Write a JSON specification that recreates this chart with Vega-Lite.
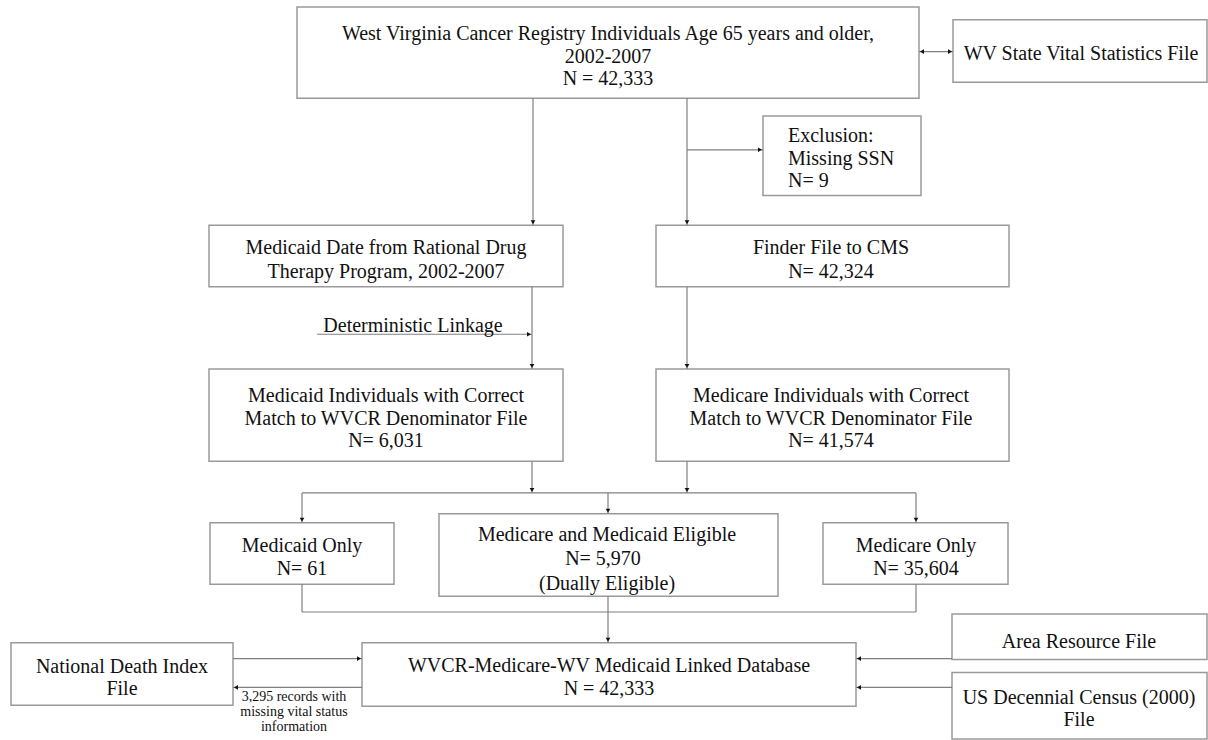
{
  "$schema": "https://vega.github.io/schema/vega-lite/v6.json",
  "width": 1208,
  "height": 740,
  "autosize": {"type": "fit", "contains": "padding"},
  "padding": 0,
  "background": "white",
  "config": {"view": {"stroke": null}},
  "datasets": {
    "boxes": [
      {"id": "top", "x": 297, "y": 7, "x2": 919, "y2": 99},
      {"id": "wv", "x": 953, "y": 20, "x2": 1207, "y2": 83},
      {"id": "excl", "x": 763, "y": 117, "x2": 921, "y2": 197},
      {"id": "mdate", "x": 209, "y": 227, "x2": 563, "y2": 289},
      {"id": "finder", "x": 656, "y": 227, "x2": 1009, "y2": 289},
      {"id": "mdind", "x": 209, "y": 372, "x2": 563, "y2": 465},
      {"id": "mcind", "x": 656, "y": 372, "x2": 1009, "y2": 465},
      {"id": "mdonly", "x": 210, "y": 527, "x2": 394, "y2": 589},
      {"id": "both", "x": 439, "y": 518, "x2": 778, "y2": 601},
      {"id": "mconly", "x": 823, "y": 527, "x2": 1008, "y2": 589},
      {"id": "ndi", "x": 11, "y": 648, "x2": 233, "y2": 711},
      {"id": "db", "x": 362, "y": 648, "x2": 856, "y2": 712},
      {"id": "area", "x": 952, "y": 619, "x2": 1207, "y2": 665},
      {"id": "census", "x": 952, "y": 678, "x2": 1207, "y2": 745}
    ],
    "lines": [
      {"x": 533, "y": 99, "x2": 533, "y2": 227},
      {"x": 687, "y": 99, "x2": 687, "y2": 227},
      {"x": 687, "y": 151, "x2": 763, "y2": 151},
      {"x": 919, "y": 52, "x2": 953, "y2": 52},
      {"x": 532, "y": 289, "x2": 532, "y2": 372},
      {"x": 317, "y": 337, "x2": 532, "y2": 337},
      {"x": 687, "y": 289, "x2": 687, "y2": 372},
      {"x": 532, "y": 465, "x2": 532, "y2": 497},
      {"x": 687, "y": 465, "x2": 687, "y2": 497},
      {"x": 302, "y": 497, "x2": 916, "y2": 497},
      {"x": 302, "y": 497, "x2": 302, "y2": 527},
      {"x": 608, "y": 497, "x2": 608, "y2": 518},
      {"x": 916, "y": 497, "x2": 916, "y2": 527},
      {"x": 302, "y": 589, "x2": 302, "y2": 617},
      {"x": 608, "y": 601, "x2": 608, "y2": 617},
      {"x": 916, "y": 589, "x2": 916, "y2": 617},
      {"x": 302, "y": 617, "x2": 916, "y2": 617},
      {"x": 608, "y": 617, "x2": 608, "y2": 648},
      {"x": 233, "y": 664, "x2": 362, "y2": 664},
      {"x": 233, "y": 693, "x2": 362, "y2": 693},
      {"x": 856, "y": 664, "x2": 952, "y2": 664},
      {"x": 856, "y": 693, "x2": 952, "y2": 693}
    ],
    "heads": [
      {"x": 533, "y": 224, "shape": "triangle-down"},
      {"x": 687, "y": 224, "shape": "triangle-down"},
      {"x": 760, "y": 151, "shape": "triangle-right"},
      {"x": 922, "y": 52, "shape": "triangle-left"},
      {"x": 950, "y": 52, "shape": "triangle-right"},
      {"x": 532, "y": 369, "shape": "triangle-down"},
      {"x": 529, "y": 337, "shape": "triangle-right"},
      {"x": 687, "y": 369, "shape": "triangle-down"},
      {"x": 532, "y": 494, "shape": "triangle-down"},
      {"x": 687, "y": 494, "shape": "triangle-down"},
      {"x": 302, "y": 524, "shape": "triangle-down"},
      {"x": 608, "y": 515, "shape": "triangle-down"},
      {"x": 916, "y": 524, "shape": "triangle-down"},
      {"x": 608, "y": 645, "shape": "triangle-down"},
      {"x": 359, "y": 664, "shape": "triangle-right"},
      {"x": 236, "y": 693, "shape": "triangle-left"},
      {"x": 859, "y": 664, "shape": "triangle-left"},
      {"x": 859, "y": 693, "shape": "triangle-left"}
    ],
    "labels": [
      {"x": 608, "y": 34, "text": "West Virginia Cancer Registry Individuals Age 65 years and older,", "size": 20, "align": "center"},
      {"x": 608, "y": 57, "text": "2002-2007", "size": 20, "align": "center"},
      {"x": 608, "y": 80, "text": "N = 42,333", "size": 20, "align": "center"},
      {"x": 1081, "y": 54, "text": "WV State Vital Statistics File", "size": 20, "align": "center"},
      {"x": 788, "y": 137, "text": "Exclusion:", "size": 20, "align": "left"},
      {"x": 788, "y": 160, "text": "Missing SSN", "size": 20, "align": "left"},
      {"x": 788, "y": 182, "text": "N= 9", "size": 20, "align": "left"},
      {"x": 386, "y": 250, "text": "Medicaid Date from Rational Drug", "size": 20, "align": "center"},
      {"x": 386, "y": 274, "text": "Therapy Program, 2002-2007", "size": 20, "align": "center"},
      {"x": 831, "y": 250, "text": "Finder File to CMS", "size": 20, "align": "center"},
      {"x": 831, "y": 274, "text": "N= 42,324", "size": 20, "align": "center"},
      {"x": 413, "y": 329, "text": "Deterministic Linkage", "size": 20, "align": "center"},
      {"x": 386, "y": 399, "text": "Medicaid Individuals with Correct", "size": 20, "align": "center"},
      {"x": 386, "y": 422, "text": "Match to WVCR Denominator File", "size": 20, "align": "center"},
      {"x": 386, "y": 445, "text": "N= 6,031", "size": 20, "align": "center"},
      {"x": 831, "y": 399, "text": "Medicare Individuals with Correct", "size": 20, "align": "center"},
      {"x": 831, "y": 422, "text": "Match to WVCR Denominator File", "size": 20, "align": "center"},
      {"x": 831, "y": 445, "text": "N= 41,574", "size": 20, "align": "center"},
      {"x": 302, "y": 550, "text": "Medicaid Only", "size": 20, "align": "center"},
      {"x": 302, "y": 574, "text": "N= 61", "size": 20, "align": "center"},
      {"x": 607, "y": 539, "text": "Medicare and Medicaid Eligible", "size": 20, "align": "center"},
      {"x": 603, "y": 564, "text": "N= 5,970", "size": 20, "align": "center"},
      {"x": 607, "y": 589, "text": "(Dually Eligible)", "size": 20, "align": "center"},
      {"x": 916, "y": 550, "text": "Medicare Only", "size": 20, "align": "center"},
      {"x": 916, "y": 574, "text": "N= 35,604", "size": 20, "align": "center"},
      {"x": 122, "y": 672, "text": "National Death Index", "size": 20, "align": "center"},
      {"x": 122, "y": 695, "text": "File", "size": 20, "align": "center"},
      {"x": 609, "y": 671, "text": "WVCR-Medicare-WV Medicaid Linked Database", "size": 20, "align": "center"},
      {"x": 609, "y": 695, "text": "N = 42,333", "size": 20, "align": "center"},
      {"x": 1079, "y": 647, "text": "Area Resource File", "size": 20, "align": "center"},
      {"x": 1079, "y": 704, "text": "US Decennial Census (2000)", "size": 20, "align": "center"},
      {"x": 1079, "y": 726, "text": "File", "size": 20, "align": "center"},
      {"x": 294, "y": 703, "text": "3,295 records with", "size": 14, "align": "center"},
      {"x": 294, "y": 718, "text": "missing vital status", "size": 14, "align": "center"},
      {"x": 294, "y": 733, "text": "information", "size": 14, "align": "center"}
    ]
  },
  "layer": [
    {
      "data": {"name": "boxes"},
      "mark": {"type": "rect", "fill": "white", "stroke": "#9a9a9a", "strokeWidth": 1.5},
      "encoding": {
        "x": {"field": "x", "type": "quantitative", "scale": {"domain": [0, 1208], "nice": false, "zero": false}, "axis": null},
        "x2": {"field": "x2"},
        "y": {"field": "y", "type": "quantitative", "scale": {"domain": [0, 740], "nice": false, "zero": false, "reverse": true}, "axis": null},
        "y2": {"field": "y2"}
      }
    },
    {
      "data": {"name": "lines"},
      "mark": {"type": "rule", "stroke": "#808080", "strokeWidth": 1.2},
      "encoding": {
        "x": {"field": "x", "type": "quantitative"},
        "x2": {"field": "x2"},
        "y": {"field": "y", "type": "quantitative"},
        "y2": {"field": "y2"}
      }
    },
    {
      "data": {"name": "heads"},
      "mark": {"type": "point", "filled": true, "color": "#111111", "opacity": 1, "size": 22, "strokeWidth": 0},
      "encoding": {
        "x": {"field": "x", "type": "quantitative"},
        "y": {"field": "y", "type": "quantitative"},
        "shape": {"field": "shape", "type": "nominal", "scale": null}
      }
    },
    {
      "data": {"name": "labels"},
      "transform": [{"filter": "datum.align == 'center'"}],
      "mark": {"type": "text", "align": "center", "baseline": "middle", "font": "Liberation Serif", "color": "#111111"},
      "encoding": {
        "x": {"field": "x", "type": "quantitative"},
        "y": {"field": "y", "type": "quantitative"},
        "text": {"field": "text"},
        "size": {"field": "size", "type": "quantitative", "scale": null}
      }
    },
    {
      "data": {"name": "labels"},
      "transform": [{"filter": "datum.align == 'left'"}],
      "mark": {"type": "text", "align": "left", "baseline": "middle", "font": "Liberation Serif", "color": "#111111"},
      "encoding": {
        "x": {"field": "x", "type": "quantitative"},
        "y": {"field": "y", "type": "quantitative"},
        "text": {"field": "text"},
        "size": {"field": "size", "type": "quantitative", "scale": null}
      }
    }
  ]
}
